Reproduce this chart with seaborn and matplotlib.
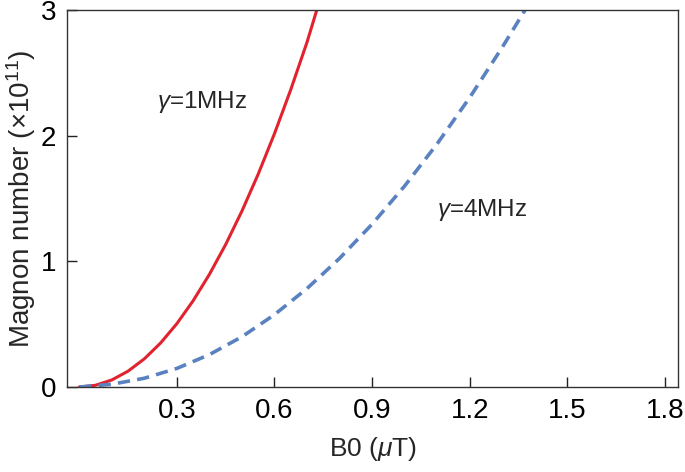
import pandas as pd
import seaborn as sns
from matplotlib import pyplot as plt

# (B0 in uT, magnon number in 1e11)
b0_1mhz = [0.0, 0.05, 0.10, 0.15, 0.20, 0.25, 0.30, 0.35, 0.40, 0.45, 0.50,
           0.55, 0.60, 0.65, 0.70, 0.73]
n_1mhz = [0.0, 0.014, 0.056, 0.126, 0.224, 0.35, 0.504, 0.686, 0.896, 1.134,
          1.40, 1.694, 2.016, 2.366, 2.744, 3.0]

b0_4mhz = [0.0, 0.1, 0.2, 0.3, 0.4, 0.5, 0.6, 0.7, 0.8, 0.9, 1.0, 1.1, 1.2,
           1.3, 1.37]
n_4mhz = [0.0, 0.022, 0.07, 0.148, 0.258, 0.40, 0.576, 0.784, 1.024, 1.296,
          1.60, 1.936, 2.304, 2.704, 3.0]

x_ticks = [0.3, 0.6, 0.9, 1.2, 1.5, 1.8]
y_ticks = [0, 1, 2, 3]


def main():
    sns.set_style("ticks")
    plt.rcParams["font.family"] = ["Liberation Sans", "DejaVu Sans"]
    plt.rcParams["mathtext.fontset"] = "custom"
    plt.rcParams["mathtext.rm"] = "Liberation Sans"
    plt.rcParams["mathtext.it"] = "Liberation Sans:italic"

    df1 = pd.DataFrame({"B0": b0_1mhz, "N": n_1mhz})
    df4 = pd.DataFrame({"B0": b0_4mhz, "N": n_4mhz})

    fig = plt.figure(figsize=(6.85, 4.72), dpi=100)
    ax = fig.add_axes([0.098, 0.180, 0.892, 0.799])

    sns.lineplot(data=df1, x="B0", y="N", ax=ax, color="#e0232e",
                 linewidth=2.2, sort=False)
    line4 = sns.lineplot(data=df4, x="B0", y="N", ax=ax, color="#5b82c0",
                         linewidth=2.6, sort=False).lines[-1]
    line4.set_dashes((3.4, 2.0))

    ax.set_xlim(-0.037, 1.84)
    ax.set_ylim(0, 3)
    ax.set_xticks(x_ticks)
    ax.set_xticklabels([f"{t:.1f}" for t in x_ticks])
    ax.set_yticks(y_ticks)
    ax.tick_params(direction="in", length=7, width=1, labelsize=20,
                   colors="#222222", labelcolor="black", pad=8)

    for s in ax.spines.values():
        s.set_visible(True)
        s.set_color("#333333")
        s.set_linewidth(1.0)

    ax.set_xlabel(r"B0 ($\mu$T)", fontsize=19, labelpad=8)
    ax.set_ylabel(r"Magnon number ($\times$10$^{11}$)", fontsize=20,
                  labelpad=2)

    ax.text(0.24, 2.27, r"$\mathit{\gamma}$=1MHz", fontsize=17.5, va="center")
    ax.text(1.10, 1.41, r"$\mathit{\gamma}$=4MHz", fontsize=17.5, va="center")

    fig.savefig("out.png", dpi=100)


if __name__ == "__main__":
    main()
